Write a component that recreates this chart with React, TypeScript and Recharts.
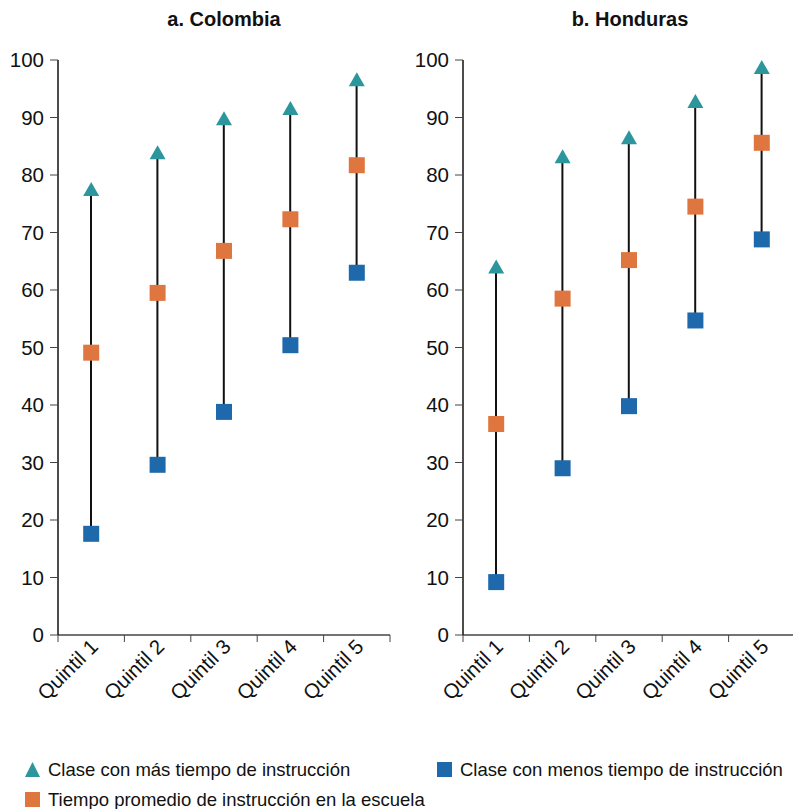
import React from "react";
import { ComposedChart, Bar, Line, XAxis, YAxis } from "recharts";

const quintiles = ["Quintil 1", "Quintil 2", "Quintil 3", "Quintil 4", "Quintil 5"];

// a. Colombia
const colMax = [77.4, 83.8, 89.7, 91.5, 96.5];
const colAvg = [49.1, 59.5, 66.8, 72.3, 81.7];
const colMin = [17.6, 29.6, 38.8, 50.4, 63.0];

// b. Honduras
const honMax = [63.9, 83.1, 86.4, 92.7, 98.6];
const honAvg = [36.7, 58.5, 65.2, 74.5, 85.6];
const honMin = [9.2, 29.0, 39.8, 54.7, 68.8];

const yTicks = [0, 10, 20, 30, 40, 50, 60, 70, 80, 90, 100];

const TEAL = "#2b979d";
const ORANGE = "#e0763f";
const BLUE = "#1d69ac";
const FONT = '"Liberation Sans", Arial, Helvetica, sans-serif';

const buildRows = (max: number[], avg: number[], min: number[]) =>
  quintiles.map((q, i) => ({ q, max: max[i], avg: avg[i], min: min[i] }));

const RangeLine = (props: any) => {
  const { x, y, width, height } = props;
  const cx = x + width / 2;
  return <line x1={cx} x2={cx} y1={y} y2={y + height} stroke="#111" strokeWidth={2} />;
};

const Square = ({ cx, cy, fill }: any) => (
  <rect x={cx - 8} y={cy - 8} width={16} height={16} fill={fill} />
);

const Triangle = ({ cx, cy }: any) => (
  <polygon points={`${cx - 8},${cy + 6} ${cx + 8},${cy + 6} ${cx},${cy - 8}`} fill={TEAL} />
);

const QuintilTick = (props: any) => {
  const { x, y, payload, index, band } = props;
  return (
    <g>
      <line x1={x - band / 2} x2={x - band / 2} y1={y} y2={y + 7} stroke="#444" />
      {index === quintiles.length - 1 && (
        <line x1={x + band / 2} x2={x + band / 2} y1={y} y2={y + 7} stroke="#444" />
      )}
      <text
        transform={`translate(${x + 8},${y + 13}) rotate(-45)`}
        textAnchor="end"
        fontSize={20.5}
        fill="#111"
        fontFamily={FONT}
      >
        {payload.value}
      </text>
    </g>
  );
};

const Panel = ({ rows, axisWidth, right }: any) => {
  const width = 400;
  const plotW = width - axisWidth - right;
  return (
    <ComposedChart
      width={width}
      height={720}
      data={rows}
      margin={{ top: 60, right, left: 0, bottom: 0 }}
    >
      <XAxis
        dataKey="q"
        height={85}
        interval={0}
        tickLine={false}
        tickSize={0}
        tickMargin={0}
        axisLine={{ stroke: "#444", strokeWidth: 1.5 }}
        tick={<QuintilTick band={plotW / quintiles.length} />}
      />
      <YAxis
        width={axisWidth}
        domain={[0, 100]}
        ticks={yTicks}
        interval={0}
        tickSize={8}
        tickMargin={6}
        axisLine={{ stroke: "#111", strokeWidth: 1.5 }}
        tickLine={{ stroke: "#444" }}
        tick={{ fill: "#111", fontSize: 20.5, fontFamily: FONT }}
      />
      <Bar
        dataKey={(d: any) => [d.min, d.max]}
        barSize={10}
        shape={<RangeLine />}
        isAnimationActive={false}
      />
      <Line
        dataKey="min"
        stroke="none"
        isAnimationActive={false}
        activeDot={false}
        dot={(p: any) => <Square key={`min-${p.index}`} cx={p.cx} cy={p.cy} fill={BLUE} />}
      />
      <Line
        dataKey="avg"
        stroke="none"
        isAnimationActive={false}
        activeDot={false}
        dot={(p: any) => <Square key={`avg-${p.index}`} cx={p.cx} cy={p.cy} fill={ORANGE} />}
      />
      <Line
        dataKey="max"
        stroke="none"
        isAnimationActive={false}
        activeDot={false}
        dot={(p: any) => <Triangle key={`max-${p.index}`} cx={p.cx} cy={p.cy} />}
      />
    </ComposedChart>
  );
};

const titleStyle: React.CSSProperties = {
  position: "absolute",
  top: 8,
  fontFamily: FONT,
  fontWeight: "bold",
  fontSize: 20,
  color: "#111",
  textAlign: "center",
  width: 300,
};

const legendText: React.CSSProperties = {
  position: "absolute",
  fontFamily: FONT,
  fontSize: 18.5,
  color: "#111",
  whiteSpace: "nowrap",
  lineHeight: "20px",
};

export default function App() {
  return (
    <div
      style={{
        position: "absolute",
        left: 0,
        top: 0,
        width: 793,
        height: 809,
        overflow: "hidden",
        background: "#fff",
      }}
    >
      <div style={{ ...titleStyle, left: 74 }}>a. Colombia</div>
      <div style={{ ...titleStyle, left: 480 }}>b. Honduras</div>

      <div style={{ position: "absolute", left: 0, top: 0 }}>
        <Panel rows={buildRows(colMax, colAvg, colMin)} axisWidth={58} right={10} />
      </div>
      <div style={{ position: "absolute", left: 400, top: 0 }}>
        <Panel rows={buildRows(honMax, honAvg, honMin)} axisWidth={63} right={5} />
      </div>

      <svg style={{ position: "absolute", left: 0, top: 0 }} width={793} height={809}>
        <polygon points="25,777 40,777 32.5,762" fill={TEAL} />
        <rect x={437} y={762} width={15} height={15} fill={BLUE} />
        <rect x={25} y={792} width={15} height={15} fill={ORANGE} />
      </svg>
      <div style={{ ...legendText, left: 48, top: 760 }}>Clase con más tiempo de instrucción</div>
      <div style={{ ...legendText, left: 460, top: 760 }}>Clase con menos tiempo de instrucción</div>
      <div style={{ ...legendText, left: 48, top: 790 }}>Tiempo promedio de instrucción en la escuela</div>
    </div>
  );
}
